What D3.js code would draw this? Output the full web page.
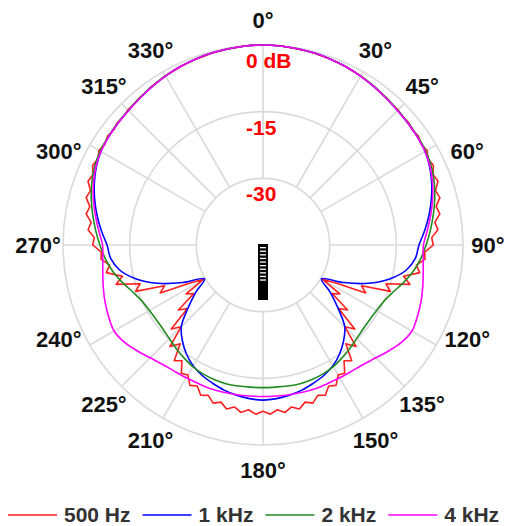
<!DOCTYPE html>
<html lang="en">
<head>
<meta charset="UTF-8">
<title>Polar response</title>
<script src="https://d3js.org/d3.v7.min.js"></script>
<style>
  body { margin: 0; background: #fff; font-family: "Liberation Sans", Arial, sans-serif; }
  svg { display: block; }
  .grid { fill: none; stroke: #dadada; stroke-width: 1.6; }
  .curve { fill: none; stroke-width: 1.6; stroke-linejoin: round; }
</style>
</head>
<body>
<div id="chart"></div>
<script>
// angle labels (degrees, clockwise from top) and dB rings
const angleTicks = [0, 30, 45, 60, 90, 120, 135, 150, 180, 210, 225, 240, 270, 300, 315, 330];
const ringLevels = [0, -15, -30];
const ringLabels = ["0 dB", "-15", "-30"];

const seriesNames = ["500 Hz", "1 kHz", "2 kHz", "4 kHz"];
const seriesColors = ["#ff1f1f", "#0000ff", "#228b22", "#ff00ff"];

// 500 Hz is sampled every 2.5 deg, the others every 5 deg (starting at 0 deg)
const stepFine = 2.5;
const stepCoarse = 5;

const hz500 = [
  0, 0, 0, -0.15, -0.2, -0.3, -0.35, -0.5, -0.55, -0.7, -0.8, -1.0, -1.05, -1.3, -1.4, -1.7,
  -1.75, -2.05, -2.0, -2.35, -2.2, -2.6, -2.3, -2.8, -2.4, -3.1, -2.7, -3.6, -3.1, -4.3, -3.8, -5.1,
  -4.6, -6.0, -5.5, -7.0, -6.7, -8.6, -8.4, -10.2, -9.2, -12.6, -10.8, -16.0, -14.5, -21.0, -19.5, -26.5,
  -29.6, -24.5, -26.0, -21.0, -22.8, -17.0, -19.0, -14.0, -16.0, -12.2, -13.2, -10.8, -11.2, -9.4, -10.0, -8.4,
  -9.0, -7.7, -8.4, -7.2, -8.0, -7.0, -7.8, -6.9, -7.6,
  -6.9, -7.8, -7.0, -8.0, -7.2, -8.4, -7.7, -9.0, -8.4, -10.0, -9.4, -11.2, -10.8, -13.2, -12.2, -16.0,
  -14.0, -19.0, -17.0, -22.8, -21.0, -26.0, -24.5, -29.6, -26.5, -19.5, -21.0, -14.5, -16.0, -10.8, -12.6, -9.2,
  -10.2, -8.4, -8.6, -6.7, -7.0, -5.5, -6.0, -4.6, -5.1, -3.8, -4.3, -3.1, -3.6, -2.7, -3.1, -2.4,
  -2.8, -2.3, -2.6, -2.2, -2.35, -2.0, -2.05, -1.75, -1.7, -1.4, -1.3, -1.05, -1.0, -0.8, -0.7, -0.55,
  -0.5, -0.35, -0.3, -0.2, -0.15, 0, 0
];

const khz1 = [
  0, -0.05, -0.15, -0.3, -0.5, -0.75, -1.1, -1.5, -1.9, -2.2, -2.4, -2.6, -2.9, -3.6, -4.6, -5.8,
  -7.1, -8.5, -9.9, -10.6, -12.3, -15.5, -19.8, -25.0, -29.8, -26.6, -23.0, -19.0, -16.8, -15.0, -13.6, -12.6,
  -11.9, -11.2, -10.7, -10.3, -10.1,
  -10.3, -10.7, -11.2, -11.9, -12.6, -13.6, -15.0, -16.8, -19.0, -23.0, -26.6, -29.8, -25.0, -19.8, -15.5, -12.3,
  -10.6, -9.9, -8.5, -7.1, -5.8, -4.6, -3.6, -2.9, -2.6, -2.4, -2.2, -1.9, -1.5, -1.1, -0.75, -0.5,
  -0.3, -0.15, -0.05
];

const khz2 = [
  0, -0.05, -0.15, -0.3, -0.5, -0.75, -1.05, -1.4, -1.8, -2.1, -2.3, -2.5, -2.7, -3.2, -4.0, -5.0,
  -6.1, -7.2, -8.3, -9.4, -10.7, -12.3, -13.9, -15.0, -15.5, -15.7, -15.6, -15.2, -14.6, -14.0, -13.4, -13.0,
  -12.8, -12.7, -12.8, -12.9, -12.9,
  -12.9, -12.8, -12.7, -12.8, -13.0, -13.4, -14.0, -14.6, -15.2, -15.6, -15.7, -15.5, -15.0, -13.9, -12.3, -10.7,
  -9.4, -8.3, -7.2, -6.1, -5.0, -4.0, -3.2, -2.7, -2.5, -2.3, -2.1, -1.8, -1.4, -1.05, -0.75, -0.5,
  -0.3, -0.15, -0.05
];

const khz4 = [
  0, -0.05, -0.15, -0.3, -0.5, -0.75, -1.1, -1.5, -1.9, -2.2, -2.4, -2.6, -2.9, -3.5, -4.4, -5.5,
  -6.7, -7.9, -8.9, -8.8, -8.4, -7.8, -7.2, -6.7, -6.3, -6.9, -8.0, -9.1, -9.9, -10.3, -10.5, -10.6,
  -10.6, -10.7, -10.8, -10.9, -10.9,
  -10.9, -10.8, -10.7, -10.6, -10.6, -10.5, -10.3, -9.9, -9.1, -8.0, -6.9, -6.3, -6.7, -7.2, -7.8, -8.4,
  -8.8, -8.9, -7.9, -6.7, -5.5, -4.4, -3.5, -2.9, -2.6, -2.4, -2.2, -1.9, -1.5, -1.1, -0.75, -0.5,
  -0.3, -0.15, -0.05
];

const series = [
  { values: hz500, step: stepFine, curve: d3.curveLinearClosed },
  { values: khz1, step: stepCoarse, curve: d3.curveCatmullRomClosed.alpha(0.5) },
  { values: khz2, step: stepCoarse, curve: d3.curveCatmullRomClosed.alpha(0.5) },
  { values: khz4, step: stepCoarse, curve: d3.curveCatmullRomClosed.alpha(0.5) }
];

const width = 512, height = 526;
const cx = 263, cy = 245;
const outerR = 200;
const labelR = 225;

const svg = d3.select("#chart").append("svg")
  .attr("width", width)
  .attr("height", height);

const r = d3.scaleLinear().domain([-45, 0]).range([0, outerR]);
const rad = d => d * Math.PI / 180;

// labels close to the horizontal axis sit a bit nearer to it
function labelAngle(d) {
  const s = Math.sin(rad(d));
  return d + 40 * Math.sin(rad(2 * d)) * Math.max(0, s * s - 0.6);
}

const g = svg.append("g").attr("transform", `translate(${cx},${cy})`);

// grid rings
g.selectAll("circle.grid")
  .data(ringLevels)
  .join("circle")
  .attr("class", "grid")
  .attr("r", d => r(d));

// spokes from the -30 ring out to the 0 dB ring
g.selectAll("line.grid")
  .data(angleTicks)
  .join("line")
  .attr("class", "grid")
  .attr("x1", d => r(-30) * Math.sin(rad(d)))
  .attr("y1", d => -r(-30) * Math.cos(rad(d)))
  .attr("x2", d => r(0) * Math.sin(rad(d)))
  .attr("y2", d => -r(0) * Math.cos(rad(d)));

// little microphone icon in the middle
const mic = g.append("g");
mic.append("rect")
  .attr("x", -5).attr("y", -1)
  .attr("width", 10).attr("height", 56)
  .attr("fill", "#000");
mic.selectAll("rect.slot")
  .data(d3.range(10))
  .join("rect")
  .attr("class", "slot")
  .attr("x", -3).attr("y", i => 2 + i * 3.6)
  .attr("width", 6).attr("height", 1.3)
  .attr("fill", "#fff");

// curves
const line = d3.lineRadial()
  .angle(d => rad(d.a))
  .radius(d => r(d.v));

series.forEach((s, i) => {
  const pts = s.values.map((v, k) => ({ a: k * s.step, v }));
  g.append("path")
    .datum(pts)
    .attr("class", "curve")
    .attr("stroke", seriesColors[i])
    .attr("d", line.curve(s.curve));
});

// dB labels
g.selectAll("text.db")
  .data(ringLevels)
  .join("text")
  .attr("class", "db")
  .attr("x", -17)
  .attr("y", d => -r(d) + 23)
  .attr("fill", "#ff0000")
  .style("font-weight", "bold")
  .style("font-size", "21px")
  .text((d, i) => ringLabels[i]);

// angle labels
g.selectAll("text.ang")
  .data(angleTicks)
  .join("text")
  .attr("class", "ang")
  .attr("x", d => labelR * Math.sin(rad(labelAngle(d))))
  .attr("y", d => -labelR * Math.cos(rad(labelAngle(d))))
  .attr("dy", "0.36em")
  .attr("text-anchor", "middle")
  .attr("fill", "#111")
  .style("font-weight", "bold")
  .style("font-size", "22px")
  .text(d => d + "°");

// legend
const legend = svg.append("g").attr("transform", "translate(8,515)");
let lx = 0;
seriesNames.forEach((name, i) => {
  legend.append("line")
    .attr("x1", lx).attr("x2", lx + 49)
    .attr("y1", 0).attr("y2", 0)
    .attr("stroke", seriesColors[i])
    .attr("stroke-width", 1.6);
  const t = legend.append("text")
    .attr("x", lx + 56)
    .attr("y", 7)
    .attr("fill", "#333")
    .style("font-weight", "bold")
    .style("font-size", "21px")
    .text(name);
  lx += 56 + t.node().getComputedTextLength() + 12;
});
</script>
</body>
</html>
